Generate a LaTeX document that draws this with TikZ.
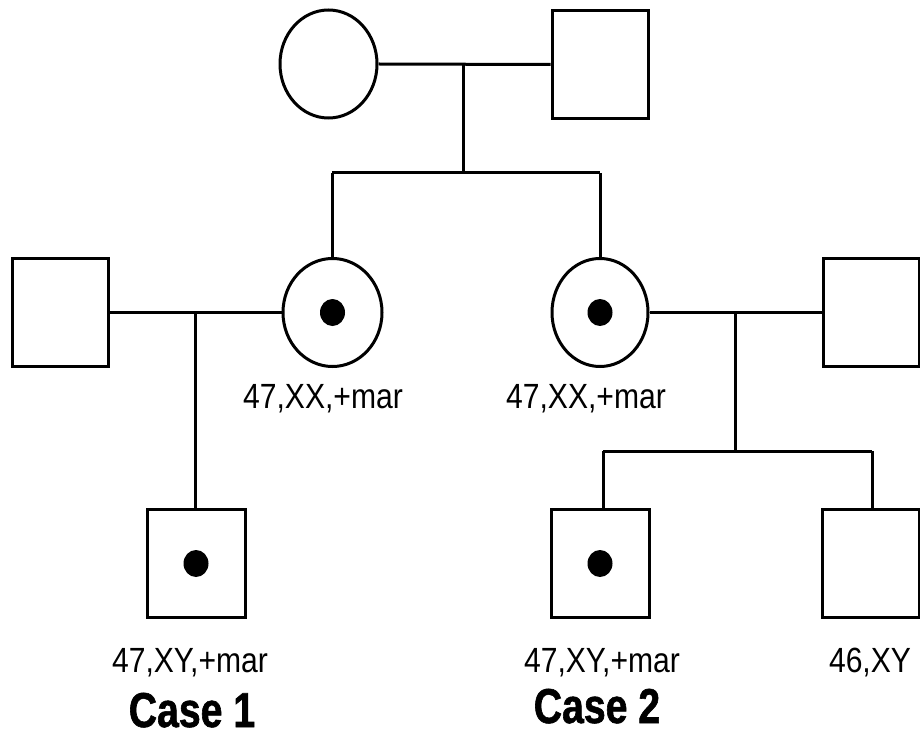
\documentclass[tikz,border=0pt]{standalone}
\usepackage{fontspec}
\setmainfont{Liberation Sans}
\newfontfamily\labelfont[FakeStretch=0.86]{Liberation Sans}
\newfontfamily\casefont[FakeStretch=0.8,FakeBold=1.2]{Liberation Sans}
\usetikzlibrary{shapes.geometric}
\begin{document}
\begin{tikzpicture}[x=1pt,y=-1pt,line width=3pt,
  female/.style={draw,ellipse,inner sep=0pt,minimum width=97pt,minimum height=108pt},
  male/.style={draw,rectangle,inner sep=0pt,minimum width=96pt,minimum height=108pt},
  carrier/.style={fill,ellipse,inner sep=0pt,minimum width=25pt,minimum height=27pt,draw=none},
  karyo/.style={anchor=base,inner sep=0pt,font=\labelfont\fontsize{35}{40}\selectfont},
  casetag/.style={anchor=base,inner sep=0pt,text depth=0pt,font=\casefont\bfseries\fontsize{49}{56}\selectfont}]
\useasboundingbox (0,0) rectangle (920,735);
\fill[white] (0,0) rectangle (920,735);
% generation I
\node[female] (gm) at (328.5,64) {};
\node[male] (gf) at (600,64.5) {};
% generation II
\node[male] (h1) at (60,312.5) {};
\node[female,minimum width=99pt] (m1) at (332.5,312.5) {};
\node[female,minimum width=96pt] (m2) at (600,312.5) {};
\node[male] (h2) at (871,312.5) {};
% generation III
\node[male,minimum width=98pt] (c1) at (196,563.5) {};
\node[male,minimum width=98pt] (c2) at (600,563.5) {};
\node[male,minimum width=97pt] (c3) at (870.5,563.5) {};
% carrier dots
\node[carrier] (d1) at (m1.center) {};
\node[carrier] (d2) at (m2.center) {};
\node[carrier] (d3) at (c1.center) {};
\node[carrier] (d4) at (c2.center) {};
% coordinates
\coordinate (j1) at (463,64);
\coordinate (j2) at (463,173);
\coordinate (s1) at (332,173);
\coordinate (s2) at (600,173);
\coordinate (k1) at (195,313);
\coordinate (k2) at (735,313);
\coordinate (k3) at (735,451);
\coordinate (t1) at (603,451);
\coordinate (t2) at (872,451);
% connectors
\draw (gm.east) -- (gf.west);
\draw (j1) -- (j2);
\draw (s1) -- (s2);
\draw (s1) -- (s1 |- m1.north);
\draw (s2) -- (m2.north);
\draw (h1.east) -- (m1.west);
\draw (k1) -- (k1 |- c1.north);
\draw (m2.east) -- (h2.west);
\draw (k2) -- (k3);
\draw (t1) -- (t2);
\draw (t1) -- (t1 |- c2.north);
\draw (t2) -- (t2 |- c3.north);
% labels
\node[karyo] (l1) at (323,408) {47,XX,+mar};
\node[karyo] (l2) at (586,408) {47,XX,+mar};
\node[karyo] (l3) at (190,672) {47,XY,+mar};
\node[karyo] (l4) at (602,672) {47,XY,+mar};
\node[karyo] (l5) at (870,672) {46,XY};
\node[casetag] (case1) at (192,727) {Case 1};
\node[casetag] (case2) at (597,723) {Case 2};
\end{tikzpicture}
\end{document}
